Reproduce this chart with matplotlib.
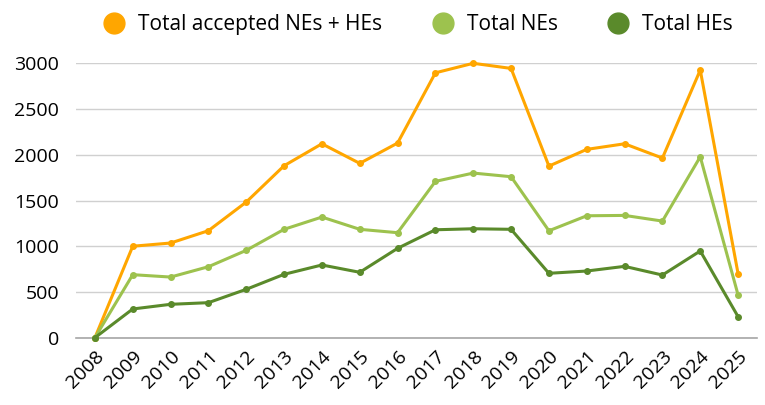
import numpy as np
import matplotlib.pyplot as plt

plt.rcParams['font.family'] = ['Open Sans', 'DejaVu Sans']

years = [str(y) for y in range(2008, 2026)]
total_accepted = [0, 1000, 1035, 1170, 1483, 1880, 2120, 1906, 2128,
                  2896, 3000, 2944, 1876, 2059, 2120, 1964, 2926, 700]
total_nes = [0, 689, 663, 776, 955, 1185, 1319, 1185, 1148,
             1709, 1800, 1760, 1169, 1333, 1337, 1275, 1978, 467]
total_hes = [0, 314, 365, 383, 529, 693, 795, 715, 977,
             1180, 1191, 1185, 704, 729, 780, 685, 948, 230]

labels = ['Total accepted NEs + HEs', 'Total NEs', 'Total HEs']
colors = ['#FFA600', '#9DC24E', '#5A8A2B']

fig = plt.figure(figsize=(7.65, 4.05), dpi=100)
ax = fig.add_axes([76/765, 1-337.7/405, (757-76)/765, (337.7-63.3)/405])

x = np.arange(len(years))
for vals, lab, col in zip([total_accepted, total_nes, total_hes], labels, colors):
    ax.plot(x, vals, color=col, lw=2.2, marker='o', ms=4, label=lab, clip_on=False, zorder=3)

ax.set_xlim(-0.5, len(years) - 0.5)
ax.set_ylim(0, 3000)
ax.set_yticks(range(0, 3001, 500))
ax.set_xticks(x)
ax.set_xticklabels(years, rotation=45, ha='right', rotation_mode='anchor')
ax.tick_params(axis='both', length=0, labelsize=14, colors='black')
ax.tick_params(axis='x', pad=7)
ax.tick_params(axis='y', pad=12)
ax.grid(axis='y', color='#D0D0D0', lw=1)
ax.set_axisbelow(True)
for s in ['top', 'right', 'left']:
    ax.spines[s].set_visible(False)
ax.spines['bottom'].set_color('#A6A6A6')
ax.spines['bottom'].set_linewidth(1.2)

handles = [plt.Line2D([], [], color=c, marker='o', ms=15, lw=0) for c in colors]
fig.legend(handles, labels, loc='upper center', bbox_to_anchor=(0.54, 1.012), ncol=3,
           frameon=False, fontsize=15, handletextpad=0.15, columnspacing=1.9)

fig.savefig('out.png')
